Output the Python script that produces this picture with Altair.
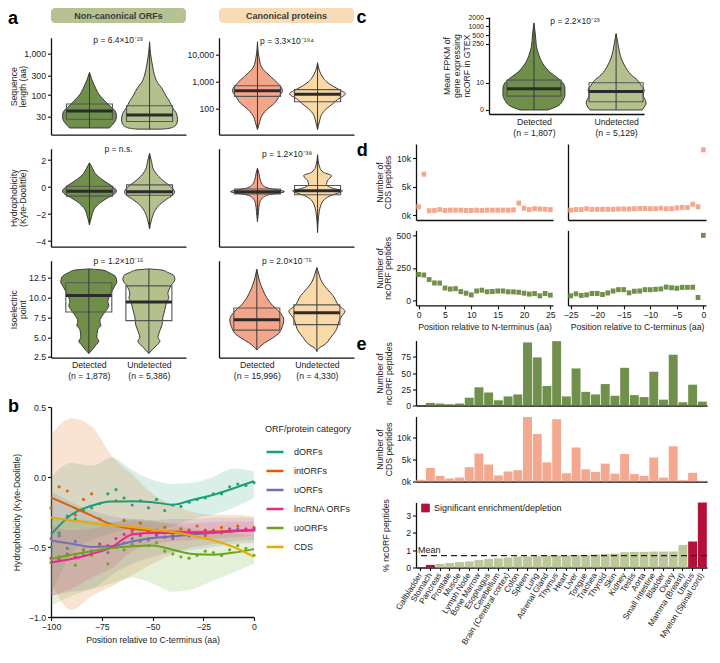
import json
import altair as alt
import pandas as pd

FONT = "Liberation Sans"
INK = "#222222"
EDGE = "#3a3a3a"

# ---------------- colours
NC_DET = "#6f8f4a"
NC_UND = "#b4c18f"
CA_DET = "#f4a68b"
CA_UND = "#f9d9a8"
HDR_COLORS = ["#b6c292", "#f8dcb6"]
GREEN_BAR = "#70904b"
PINK_BAR = "#f3a88f"
LIGHT_BAR = "#bcc89a"
SIG_RED = "#b4113a"

# ---------------- panel a
HEADERS = ["Non-canonical ORFs", "Canonical proteins"]
LABELS_NC = [["Detected", "(n = 1,878)"], ["Undetected", "(n = 5,386)"]]
LABELS_CA = [["Detected", "(n = 15,996)"], ["Undetected", "(n = 4,330)"]]
LABELS_C = [["Detected", "(n = 1,807)"], ["Undetected", "(n = 5,129)"]]
P_LEN = ["p = 6.4×10⁻²³", "p = 3.3×10⁻¹⁹⁴"]
P_HYD = ["p = n.s.", "p = 1.2×10⁻³⁸"]
P_PI = ["p = 1.2×10⁻¹⁵", "p = 2.0×10⁻⁷⁵"]
P_FPKM = "p = 2.2×10⁻²³"

# violin outlines: (value, half width in px)
LEN_NC_DET = [(16, 20), (18, 22), (22, 25), (30, 27), (40, 26), (50, 22), (70, 16), (100, 10), (150, 6), (250, 2), (353, 0)]
LEN_NC_UND = [(15, 12), (15.5, 18), (17, 24), (20, 27), (25, 28), (35, 27), (50, 23), (70, 20), (100, 16), (150, 12), (200, 8), (300, 5), (500, 3), (1000, 1), (1930, 0)]
LEN_CA_DET = [(17, 0), (30, 2), (52, 4), (90, 9), (160, 17), (300, 22), (465, 25), (900, 20), (1570, 13), (3500, 4), (8000, 1.5), (30000, 0)]
LEN_CA_UND = [(17, 0), (35, 2), (60, 4), (100, 9), (150, 15), (220, 20), (300, 26), (360, 28), (500, 22), (700, 15), (1000, 9), (1500, 5), (2500, 2), (5000, 0)]
BOX_LEN_NC = [(26, 41, 61), (23, 33, 55)]
BOX_LEN_CA = [(285, 465, 710), (180, 340, 510)]

HYD_NC_DET = [(-2.8, 0), (-2.2, 2), (-1.6, 5), (-1.2, 10), (-0.8, 18), (-0.5, 25), (-0.3, 27), (0.0, 24), (0.3, 18), (0.6, 12), (1.0, 6), (1.4, 3), (1.8, 0)]
HYD_NC_UND = [(-3.1, 0), (-2.4, 2), (-1.8, 5), (-1.3, 10), (-0.9, 17), (-0.6, 23), (-0.35, 25), (0.0, 22), (0.4, 15), (0.8, 9), (1.3, 4), (1.9, 2), (2.5, 0)]
HYD_CA_DET = [(-2.55, 0), (-1.8, 1), (-1.2, 2), (-0.8, 5), (-0.55, 12), (-0.42, 23), (-0.33, 27), (-0.22, 22), (-0.08, 11), (0.2, 5), (0.6, 2.5), (1.0, 1.5), (1.4, 0)]
HYD_CA_UND = [(-3.35, 0), (-2.2, 1), (-1.4, 3), (-0.9, 7), (-0.6, 14), (-0.4, 22), (-0.27, 25), (-0.1, 16), (0.2, 9), (0.5, 10), (0.85, 14), (1.1, 6), (1.5, 2), (2.4, 0)]
BOX_HYD_NC = [(-0.66, -0.3, 0.07), (-0.6, -0.33, 0.17)]
BOX_HYD_CA = [(-0.5, -0.33, -0.13), (-0.56, -0.27, 0.12)]

PI_NC_DET = [(2.95, 0), (3.5, 4), (4.0, 7), (4.5, 10), (5.0, 8), (6.0, 9), (6.5, 12), (7.0, 11), (8.0, 15), (8.5, 18), (9.0, 20), (9.5, 19), (10.0, 20), (10.8, 23), (11.5, 26), (12.0, 28), (12.6, 27), (13.2, 20), (13.5, 14), (13.65, 0)]
PI_NC_UND = [(2.95, 0), (3.5, 4), (4.0, 8), (4.5, 11), (5.0, 9), (5.5, 10), (6.5, 13), (7.5, 14), (8.5, 16), (9.5, 18), (10.0, 20), (10.5, 19), (11.5, 22), (12.3, 26), (12.8, 25), (13.2, 19), (13.5, 13), (13.65, 0)]
PI_CA_DET = [(3.4, 0), (3.8, 3), (4.3, 8), (5.0, 17), (5.5, 22), (6.2, 25), (7.2, 27), (8.3, 22), (9.0, 16), (10.0, 10), (11.0, 6), (12.0, 3), (13.0, 1), (13.6, 0)]
PI_CA_UND = [(3.2, 0), (3.7, 3), (4.0, 7), (5.0, 14), (6.1, 20), (7.0, 22), (7.5, 24), (8.3, 28), (9.0, 22), (10.3, 16), (11.0, 11), (12.0, 5), (13.0, 2), (13.8, 0)]
BOX_PI_NC = [(8.2, 10.3, 11.9), (7.1, 9.45, 11.5)]
BOX_PI_CA = [(5.9, 7.2, 8.7), (6.6, 8.1, 9.1)]

# ---------------- panel c
FPKM_DET = [(0, 14), (0.5, 24), (1.5, 29), (3, 31), (6, 31), (10, 29), (15, 24), (25, 16), (50, 9), (100, 5), (200, 2.5), (500, 1.5), (1300, 0)]
FPKM_UND = [(0, 26), (0.5, 29), (1, 30), (3, 27), (5, 28), (8, 25), (12, 22), (20, 15), (40, 9), (80, 5), (150, 3), (300, 1.5), (560, 0)]
BOX_FPKM = [(2.6, 5.8, 12.7), (1.2, 4.3, 10)]

# ---------------- panel b
B_CATS = ["dORFs", "intORFs", "uORFs", "lncRNA ORFs", "uoORFs", "CDS"]
B_COLORS = ["#1b9e77", "#d95f02", "#7570b3", "#e7298a", "#66a61e", "#e6ab02"]
B_LINE_POS = [-100, -90, -80, -70, -60, -50, -40, -30, -20, -10, 0]
LINE_DORF = [-0.41, -0.27, -0.205, -0.175, -0.174, -0.18, -0.198, -0.162, -0.127, -0.08, -0.03]
LINE_INTORF = [-0.146, -0.21, -0.276, -0.34, -0.37, -0.383, -0.39, -0.392, -0.39, -0.383, -0.376]
LINE_UORF = [-0.453, -0.476, -0.5, -0.495, -0.46, -0.436, -0.424, -0.41, -0.40, -0.388, -0.38]
LINE_LNC = [-0.61, -0.586, -0.55, -0.5, -0.41, -0.4, -0.4, -0.4, -0.395, -0.388, -0.38]
LINE_UO = [-0.586, -0.555, -0.53, -0.507, -0.495, -0.49, -0.52, -0.55, -0.555, -0.54, -0.515]
LINE_CDS = [-0.29, -0.31, -0.33, -0.345, -0.357, -0.376, -0.393, -0.42, -0.453, -0.50, -0.57]

B_DOT_POS = [-100, -96, -92, -88, -84, -80, -76, -72, -68, -64, -60, -56, -52, -48, -44, -40, -36, -32, -28, -24, -20, -16, -12, -8, -4, 0]
DOT_DORF = [-0.50, -0.40, -0.28, -0.30, -0.24, -0.22, -0.19, -0.12, -0.09, -0.15, -0.20, -0.17, -0.22, -0.16, -0.24, -0.20, -0.21, -0.18, -0.16, -0.15, -0.12, -0.12, -0.07, -0.05, -0.06, -0.04]
DOT_INTORF = [-0.22, -0.07, -0.10, -0.27, -0.16, -0.12, -0.30, -0.34, -0.17, -0.31, -0.40, -0.33, -0.44, -0.38, -0.36, -0.42, -0.37, -0.41, -0.35, -0.42, -0.38, -0.36, -0.39, -0.35, -0.38, -0.36]
DOT_UORF = [-0.44, -0.42, -0.51, -0.46, -0.56, -0.53, -0.48, -0.54, -0.49, -0.47, -0.44, -0.42, -0.45, -0.42, -0.43, -0.44, -0.41, -0.42, -0.40, -0.41, -0.39, -0.40, -0.38, -0.37, -0.38, -0.38]
DOT_LNC = [-0.58, -0.59, -0.55, -0.57, -0.52, -0.53, -0.48, -0.49, -0.44, -0.41, -0.38, -0.41, -0.39, -0.41, -0.40, -0.42, -0.40, -0.38, -0.40, -0.38, -0.39, -0.39, -0.37, -0.38, -0.37, -0.37]
DOT_UO = [-0.61, -0.57, -0.56, -0.63, -0.52, -0.56, -0.49, -0.62, -0.50, -0.52, -0.48, -0.46, -0.49, -0.47, -0.53, -0.55, -0.57, -0.58, -0.56, -0.53, -0.54, -0.56, -0.52, -0.49, -0.51, -0.56]

BAND_DORF_LO = [-0.85, -0.55, -0.45, -0.40, -0.37, -0.38, -0.35, -0.30, -0.27, -0.22, -0.15]
BAND_DORF_HI = [0.0, 0.10, 0.08, 0.14, 0.05, -0.02, -0.05, -0.04, 0.0, 0.06, 0.04]
BAND_INT_LO = [-0.75, -0.95, -0.85, -0.78, -0.70, -0.62, -0.55, -0.50, -0.48, -0.46, -0.45]
BAND_INT_HI = [0.30, 0.42, 0.36, 0.15, 0.02, -0.12, -0.20, -0.25, -0.27, -0.27, -0.28]
BAND_U_LO = [-0.85, -0.82, -0.80, -0.70, -0.62, -0.57, -0.54, -0.52, -0.50, -0.48, -0.47]
BAND_U_HI = [-0.10, -0.18, -0.24, -0.28, -0.30, -0.31, -0.30, -0.30, -0.29, -0.29, -0.29]
BAND_LNC_LO = [-0.85, -0.80, -0.72, -0.65, -0.53, -0.48, -0.46, -0.45, -0.44, -0.43, -0.42]
BAND_LNC_HI = [-0.35, -0.38, -0.37, -0.33, -0.31, -0.32, -0.33, -0.33, -0.32, -0.32, -0.32]
BAND_UO_LO = [-0.92, -0.85, -0.80, -0.76, -0.72, -0.76, -0.82, -0.80, -0.74, -0.68, -0.62]
BAND_UO_HI = [-0.28, -0.30, -0.31, -0.32, -0.30, -0.31, -0.34, -0.37, -0.39, -0.40, -0.42]

# ---------------- panel d
D_N_POS = list(range(0, 26))
D_C_POS = list(range(-25, 1))
CDS_N = [1450, 7200, 750, 800, 950, 800, 850, 850, 850, 800, 800, 850, 800, 850, 850, 850, 850, 850, 900, 2100, 1200, 950, 1100, 1050, 1000, 950]
CDS_C = [850, 950, 950, 1100, 1000, 1000, 1000, 1000, 1000, 1050, 1050, 1050, 1100, 1150, 1150, 1100, 1100, 1200, 1100, 1100, 1250, 1350, 1300, 1900, 1450, 11500]
NC_N = [199, 195, 160, 134, 133, 95, 87, 90, 67, 55, 42, 72, 78, 66, 68, 72, 72, 66, 65, 62, 55, 48, 52, 35, 52, 40]
NC_C = [35, 50, 38, 42, 53, 53, 45, 57, 72, 82, 82, 58, 70, 72, 82, 82, 85, 88, 102, 97, 93, 100, 100, 101, 22, 500]

# ---------------- panel e
TISSUES = ["Gallbladder", "Stomach", "Pancreas", "Prostate", "Muscle", "Lymph Node", "Bone Marrow",
           "Esophagus", "Cerebellum", "Brain (Cerebral cortex)", "Colon", "Spleen", "Lung",
           "Adrenal Gland", "Thymus", "Heart", "Liver", "Tongue", "Trachea", "Thyroid", "Skin",
           "Kidney", "Testis", "Aorta", "Small Intestine", "Bladder", "Ovary", "Mamma (Breast)",
           "Uterus", "Myelon (Spinal cord)"]
E_NCORF = [0, 4, 3, 2, 3, 12, 28, 20, 8, 14, 17, 97, 74, 30, 99, 14, 57, 21, 17, 33, 15, 58, 16, 13, 52, 9, 78, 5, 32, 6]
E_CDS = [400, 3100, 1300, 700, 900, 3300, 6400, 3900, 1400, 2300, 2600, 14800, 10900, 4400, 14300, 1900, 7800, 2800, 2200, 4100, 1800, 6300, 1700, 1300, 5500, 900, 8100, 300, 2000, 150]
E_PCT = [0.0, 0.15, 0.21, 0.26, 0.31, 0.35, 0.43, 0.5, 0.53, 0.58, 0.63, 0.64, 0.65, 0.68, 0.69, 0.7, 0.71, 0.72, 0.75, 0.78, 0.8, 0.88, 0.9, 0.9, 0.92, 0.92, 0.92, 1.3, 1.5, 3.75]
E_SIG = ["Stomach", "Uterus", "Myelon (Spinal cord)"]
E_MEAN = 0.69
SIG_LABEL = "Significant enrichment/depletion"


# ================= helpers
def txt(text, x, y, size=8.5, weight="normal", align="center", baseline="middle", color=INK):
    return alt.Chart(pd.DataFrame({"t": [text]})).mark_text(
        fontSize=size, fontWeight=weight, align=align, baseline=baseline, color=color, font=FONT
    ).encode(text="t:N", x=alt.value(x), y=alt.value(y))


def letter(ch, x, y):
    return txt(ch, x, y, size=18, weight="bold", align="left", baseline="top", color="#000000")


def spacer(w, h):
    return alt.Chart(pd.DataFrame({"s": [0]})).mark_point(size=0, opacity=0).properties(width=w, height=h)


def cat_axis(labels=None, centers=None):
    if labels is None:
        return alt.Axis(labels=False, ticks=False, title=None, domain=True, grid=False)
    expr = "datum.value < 0.5 ? %s : %s" % (json.dumps(labels[0]), json.dumps(labels[1]))
    return alt.Axis(values=centers, labelExpr=expr, ticks=False, title=None, labelPadding=3,
                    labelLineHeight=11, labelFlush=False, grid=False)


def violin(profiles, boxes, colors, width, height, yscale, yaxis, xaxis, centers, box_hw, extra):
    vrows = []
    for g, (prof, col) in enumerate(zip(profiles, colors)):
        for v, hw in prof:
            vrows.append({"g": g, "v": v, "lo": centers[g] - hw / width,
                          "hi": centers[g] + hw / width, "col": col})
    brows = []
    for g, (q1, md, q3) in enumerate(boxes):
        vals = [p[0] for p in profiles[g]]
        brows.append({"g": g, "q1": q1, "md": md, "q3": q3, "mn": min(vals), "mx": max(vals),
                      "c": centers[g], "bl": centers[g] - box_hw / width,
                      "br": centers[g] + box_hw / width})
    dv = pd.DataFrame(vrows)
    db = pd.DataFrame(brows)
    xs = alt.Scale(domain=[0, 1], nice=False, zero=False)
    area = alt.Chart(dv).mark_area(orient="horizontal", interpolate="monotone", stroke=EDGE,
                                   strokeWidth=1).encode(
        y=alt.Y("v:Q", scale=yscale, axis=yaxis),
        x=alt.X("lo:Q", scale=xs, axis=xaxis),
        x2="hi:Q",
        fill=alt.Fill("col:N", scale=None),
        detail="g:N",
    )
    box = alt.Chart(db).mark_rect(fillOpacity=0, stroke="#555555", strokeWidth=1.1).encode(
        x=alt.X("bl:Q", scale=xs, axis=xaxis), x2="br:Q",
        y=alt.Y("q1:Q", scale=yscale, axis=yaxis), y2="q3:Q")
    whisk = alt.Chart(db).mark_rule(color=EDGE, strokeWidth=1).encode(
        x=alt.X("c:Q", scale=xs, axis=xaxis),
        y=alt.Y("mn:Q", scale=yscale, axis=yaxis), y2="mx:Q")
    med = alt.Chart(db).mark_rule(color="#2b2b2b", strokeWidth=3).encode(
        x=alt.X("bl:Q", scale=xs, axis=xaxis), x2="br:Q",
        y=alt.Y("md:Q", scale=yscale, axis=yaxis))
    return alt.layer(area, box, whisk, med, *extra).properties(width=width, height=height)


# ================= panel a
WA = 135
H1, H2, H3 = 97, 98, 97
CEN1 = [0.285, 0.73]
CEN3 = [0.28, 0.725]
BHW = 23
TITLE_X = -33
LET_X = -43


def header(i):
    df = pd.DataFrame({"t": [HEADERS[i]]})
    box = alt.Chart(df).mark_rect(cornerRadius=4, color=HDR_COLORS[i]).encode(
        x=alt.value(0), x2=alt.value(WA), y=alt.value(0), y2=alt.value(15))
    label = alt.Chart(df).mark_text(fontSize=9, fontWeight="bold", color="#3a3a3a",
                                    baseline="middle", font=FONT).encode(
        text="t:N", x=alt.value(WA / 2), y=alt.value(8))
    layers = [box, label]
    if i == 0:
        layers.append(letter("a", LET_X, 2))
    return alt.layer(*layers).properties(width=WA, height=15)


ys_len_nc = alt.Scale(type="log", domain=[11, 2435], nice=False)
ys_len_ca = alt.Scale(type="log", domain=[10.9, 42600], nice=False)
ys_hyd = alt.Scale(domain=[-4.41, 2.85], nice=False, zero=False)
ys_pi = alt.Scale(domain=[2.41, 14.69], nice=False, zero=False)

noy = alt.Axis(labels=False, ticks=False, title=None, grid=False)

a11 = violin([LEN_NC_DET, LEN_NC_UND], BOX_LEN_NC, [NC_DET, NC_UND], WA, H1, ys_len_nc,
             alt.Axis(values=[30, 100, 300, 1000], format=",", title=["Sequence", "length (aa)"],
                      titleX=TITLE_X, titleLineHeight=9),
             cat_axis(), CEN1, BHW, [txt(P_LEN[0], 67, 2)])
a12 = violin([LEN_CA_DET, LEN_CA_UND], BOX_LEN_CA, [CA_DET, CA_UND], WA, H1, ys_len_ca,
             alt.Axis(values=[100, 1000, 10000], format=",", title=None),
             cat_axis(), CEN1, BHW, [txt(P_LEN[1], 68, 3)])
a21 = violin([HYD_NC_DET, HYD_NC_UND], BOX_HYD_NC, [NC_DET, NC_UND], WA, H2, ys_hyd,
             alt.Axis(values=[-4, -2, 0, 2], title=["Hydrophobicity", "(Kyte-Doolittle)"],
                      titleX=TITLE_X, titleLineHeight=9),
             cat_axis(), CEN1, BHW, [txt(P_HYD[0], 67.5, 0)])
a22 = violin([HYD_CA_DET, HYD_CA_UND], BOX_HYD_CA, [CA_DET, CA_UND], WA, H2, ys_hyd, noy,
             cat_axis(), CEN1, BHW, [txt(P_HYD[1], 68, 5)])
a31 = violin([PI_NC_DET, PI_NC_UND], BOX_PI_NC, [NC_DET, NC_UND], WA, H3, ys_pi,
             alt.Axis(values=[2.5, 5, 7.5, 10, 12.5], format=".1f", title=["Isoelectric", "point"],
                      titleX=TITLE_X, titleLineHeight=9),
             cat_axis(LABELS_NC, CEN3), CEN3, BHW, [txt(P_PI[0], 67.5, 0)])
a32 = violin([PI_CA_DET, PI_CA_UND], BOX_PI_CA, [CA_DET, CA_UND], WA, H3, ys_pi, noy,
             cat_axis(LABELS_CA, CEN3), CEN3, BHW, [txt(P_PI[1], 68, 0)])

# ================= panel b
line_sets = [LINE_DORF, LINE_INTORF, LINE_UORF, LINE_LNC, LINE_UO, LINE_CDS]
dot_sets = [DOT_DORF, DOT_INTORF, DOT_UORF, DOT_LNC, DOT_UO]
band_sets = [(BAND_DORF_LO, BAND_DORF_HI), (BAND_INT_LO, BAND_INT_HI), (BAND_U_LO, BAND_U_HI),
             (BAND_LNC_LO, BAND_LNC_HI), (BAND_UO_LO, BAND_UO_HI)]

df_line = pd.DataFrame([{"cat": c, "pos": p, "v": v}
                        for c, vals in zip(B_CATS, line_sets) for p, v in zip(B_LINE_POS, vals)])
df_dot = pd.DataFrame([{"cat": c, "pos": p, "v": v}
                       for c, vals in zip(B_CATS, dot_sets) for p, v in zip(B_DOT_POS, vals)])
df_band = pd.DataFrame([{"cat": c, "pos": p, "lo": lo, "hi": hi}
                        for c, (los, his) in zip(B_CATS, band_sets)
                        for p, lo, hi in zip(B_LINE_POS, los, his)])

cs = alt.Scale(domain=B_CATS, range=B_COLORS)
bxs = alt.Scale(domain=[-100, 0], nice=False, zero=False)
bys = alt.Scale(domain=[-1, 0.5], nice=False, zero=False)
bx_axis = alt.Axis(values=[-100, -75, -50, -25, 0], labelFlush=False,
                   title="Position relative to C-terminus (aa)", titlePadding=4)
by_axis = alt.Axis(values=[-1, -0.5, 0, 0.5], format=".1f",
                   title="Hydrophobicity (Kyte-Doolittle)", titleX=-29.5)
b_legend = alt.Legend(
    orient="none", legendX=214, legendY=18, title="ORF/protein category",
    titleFontSize=9, titleFontWeight="normal", titleColor=INK, titlePadding=8,
    labelFontSize=9, labelColor=INK, labelOffset=9, symbolType="stroke",
    symbolStrokeWidth=2.5, symbolSize=289, symbolOpacity=1, rowPadding=4, padding=0)
bcol = alt.Color("cat:N", scale=cs, sort=B_CATS, legend=b_legend)

b_band = alt.Chart(df_band).mark_area(opacity=0.17, interpolate="monotone").encode(
    x=alt.X("pos:Q", scale=bxs, axis=bx_axis),
    y=alt.Y("lo:Q", scale=bys, stack=None, axis=by_axis),
    y2="hi:Q", color=bcol)
b_dot = alt.Chart(df_dot).mark_circle(size=10, opacity=0.95).encode(
    x=alt.X("pos:Q", scale=bxs, axis=bx_axis), y=alt.Y("v:Q", scale=bys, axis=by_axis), color=bcol)
b_line = alt.Chart(df_line).mark_line(strokeWidth=2, interpolate="monotone").encode(
    x=alt.X("pos:Q", scale=bxs, axis=bx_axis), y=alt.Y("v:Q", scale=bys, axis=by_axis), color=bcol)
chart_b = alt.layer(b_band, b_dot, b_line, letter("b", LET_X, -8.6)).properties(width=203, height=210)

# ================= panel c
ys_c = alt.Scale(type="symlog", constant=1.3, domain=[-0.49, 2117], nice=False, zero=False)
CENC = [0.29, 0.82]
chart_c = violin([FPKM_DET, FPKM_UND], BOX_FPKM, [NC_DET, NC_UND], 155, 97, ys_c,
                 alt.Axis(values=[0, 10, 250, 500, 1000, 2000], format="d", labelOverlap=False,
                          labelFontSize=7, title=["Mean FPKM of", "gene expressing", "ncORF in GTEX"],
                          titleX=-38, titleLineHeight=10),
                 cat_axis(LABELS_C, CENC), CENC, 27,
                 [txt(P_FPKM, 86, 4), letter("c", -132.5, -8)])


# ================= panel d
def dbars(pos, vals, color, xdom, ydom, width, height, yaxis, xaxis, extra=()):
    df = pd.DataFrame({"pos": pos, "v": vals})
    bars = alt.Chart(df).mark_bar(color=color).transform_calculate(
        x0="datum.pos - 0.44", x1="datum.pos + 0.44").encode(
        x=alt.X("x0:Q", scale=alt.Scale(domain=xdom, nice=False, zero=False), axis=xaxis),
        x2="x1:Q",
        y=alt.Y("v:Q", scale=alt.Scale(domain=ydom, nice=False), axis=yaxis))
    return alt.layer(bars, *extra).properties(width=width, height=height)


WD1, WD2 = 137, 138
no_x = alt.Axis(labels=False, ticks=False, title=None, grid=False)
d_tl = dbars(D_N_POS, CDS_N, PINK_BAR, [-0.5, 25.5], [0, 11640], WD1, 76,
             alt.Axis(values=[0, 5000, 10000], format="~s", title=["Number of", "CDS peptides"],
                      titleX=-32, titleLineHeight=8.5),
             no_x, [letter("d", -59.3, -1.6)])
d_tr = dbars(D_C_POS, CDS_C, PINK_BAR, [-25.5, 0.5], [0, 11640], WD2, 76, noy, no_x)
d_bl = dbars(D_N_POS, NC_N, GREEN_BAR, [-0.5, 25.5], [0, 500], WD1, 75,
             alt.Axis(values=[0, 250, 500], title=["Number of", "ncORF peptides"],
                      titleX=-32, titleLineHeight=8.5),
             alt.Axis(values=[0, 5, 10, 15, 20, 25], labelFlush=False,
                      title="Position relative to N-terminus (aa)", titlePadding=3))
d_br = dbars(D_C_POS, NC_C, GREEN_BAR, [-25.5, 0.5], [0, 500], WD2, 75, noy,
             alt.Axis(values=[-25, -20, -15, -10, -5, 0], labelFlush=False,
                      title="Position relative to C-terminus (aa)", titlePadding=3))

# ================= panel e
df_e = pd.DataFrame({"tissue": TISSUES, "nc": E_NCORF, "cds": E_CDS, "pct": E_PCT,
                     "sig": [SIG_LABEL if t in E_SIG else "Not significant" for t in TISSUES]})
ex_scale = alt.Scale(domain=TISSUES, paddingInner=0.08, paddingOuter=0.02)
WE = 291

e1 = alt.layer(
    alt.Chart(df_e).mark_bar(color=GREEN_BAR).encode(
        x=alt.X("tissue:N", scale=ex_scale, axis=no_x),
        y=alt.Y("nc:Q", scale=alt.Scale(domain=[0, 100], nice=False),
                axis=alt.Axis(values=[0, 25, 50, 75], title=["Number of", "ncORF peptides"],
                              titleX=-31.5, titleLineHeight=8.5))),
    letter("e", -59.5, -4.9)).properties(width=WE, height=65)

e2 = alt.Chart(df_e).mark_bar(color=PINK_BAR).encode(
    x=alt.X("tissue:N", scale=ex_scale, axis=no_x),
    y=alt.Y("cds:Q", scale=alt.Scale(domain=[0, 14920], nice=False),
            axis=alt.Axis(values=[0, 5000, 10000], format="~s", title=["Number of", "CDS peptides"],
                          titleX=-31.5, titleLineHeight=8.5))).properties(width=WE, height=65)

e3_y = alt.Scale(domain=[0, 3.75], nice=False)
e3_yaxis = alt.Axis(values=[0, 1, 2, 3], title="% ncORF peptides", titleX=-26)
e3_bars = alt.Chart(df_e).mark_bar().encode(
    x=alt.X("tissue:N", scale=ex_scale,
            axis=alt.Axis(title=None, labelAngle=-58, labelAlign="right", labelBaseline="middle",
                          tickSize=3, labelPadding=3, labelOverlap=False, labelFontSize=8.2)),
    y=alt.Y("pct:Q", scale=e3_y, axis=e3_yaxis),
    color=alt.Color("sig:N", scale=alt.Scale(domain=[SIG_LABEL, "Not significant"],
                                             range=[SIG_RED, LIGHT_BAR]),
                    legend=alt.Legend(orient="none", legendX=5, legendY=1, title=None,
                                      values=[SIG_LABEL], symbolType="square", symbolSize=75,
                                      symbolStrokeWidth=0, labelFontSize=9, labelColor=INK,
                                      labelOffset=4, padding=0)))
e3_rule = alt.Chart(pd.DataFrame({"m": [E_MEAN]})).mark_rule(
    color="#222222", strokeDash=[6, 4], strokeWidth=1.2).encode(
    y=alt.Y("m:Q", scale=e3_y, axis=e3_yaxis))
e3_text = alt.Chart(pd.DataFrame({"m": [E_MEAN], "t": ["Mean"]})).mark_text(
    align="left", baseline="bottom", fontSize=9, color=INK, dx=2, dy=-1, font=FONT).encode(
    x=alt.value(0), y=alt.Y("m:Q", scale=e3_y, axis=e3_yaxis), text="t:N")
e3 = alt.layer(e3_bars, e3_rule, e3_text).properties(width=WE, height=65)

# ================= layout
header_row = alt.hconcat(header(0), header(1), spacing=33, bounds="flush")
row1 = alt.hconcat(a11, a12, spacing=33, bounds="flush")
row2 = alt.hconcat(a21, a22, spacing=33, bounds="flush")
row3 = alt.hconcat(a31, a32, spacing=33, bounds="flush")
rows_a = alt.vconcat(row1, row2, row3, spacing=10)
top_a = alt.vconcat(header_row, rows_a, spacing=7.7)
left = alt.vconcat(top_a, chart_b, spacing=17).resolve_scale(color="independent")

c_row = alt.hconcat(spacer(1, 1), chart_c, spacing=72, bounds="flush")
r1 = alt.vconcat(spacer(1, 1), c_row, spacing=0)
d_blk = alt.vconcat(alt.hconcat(d_tl, d_tr, spacing=15, bounds="flush"),
                    alt.hconcat(d_bl, d_br, spacing=15, bounds="flush"),
                    spacing=10.35)
r2 = alt.vconcat(r1, d_blk, spacing=5)
e12 = alt.vconcat(e1, e2, spacing=6)
e_blk = alt.vconcat(e12, e3, spacing=12).resolve_scale(color="independent")
right = alt.vconcat(r2, e_blk, spacing=3.5).resolve_scale(color="independent")

chart = alt.hconcat(left, right, spacing=2).resolve_scale(
    color="independent").properties(padding=0).configure(font=FONT).configure_view(
    stroke=None).configure_axis(
    grid=False, domainColor="#111111", domainWidth=1.3, tickColor="#111111", tickSize=3.5,
    tickWidth=1.1, labelFont=FONT, labelFontSize=8.7, labelColor=INK, labelPadding=2,
    titleFont=FONT, titleFontSize=8.7, titleFontWeight="normal", titleColor=INK
).configure_legend(labelFont=FONT, titleFont=FONT)

chart.save("out.html", embed_options={"renderer": "svg", "actions": False})
